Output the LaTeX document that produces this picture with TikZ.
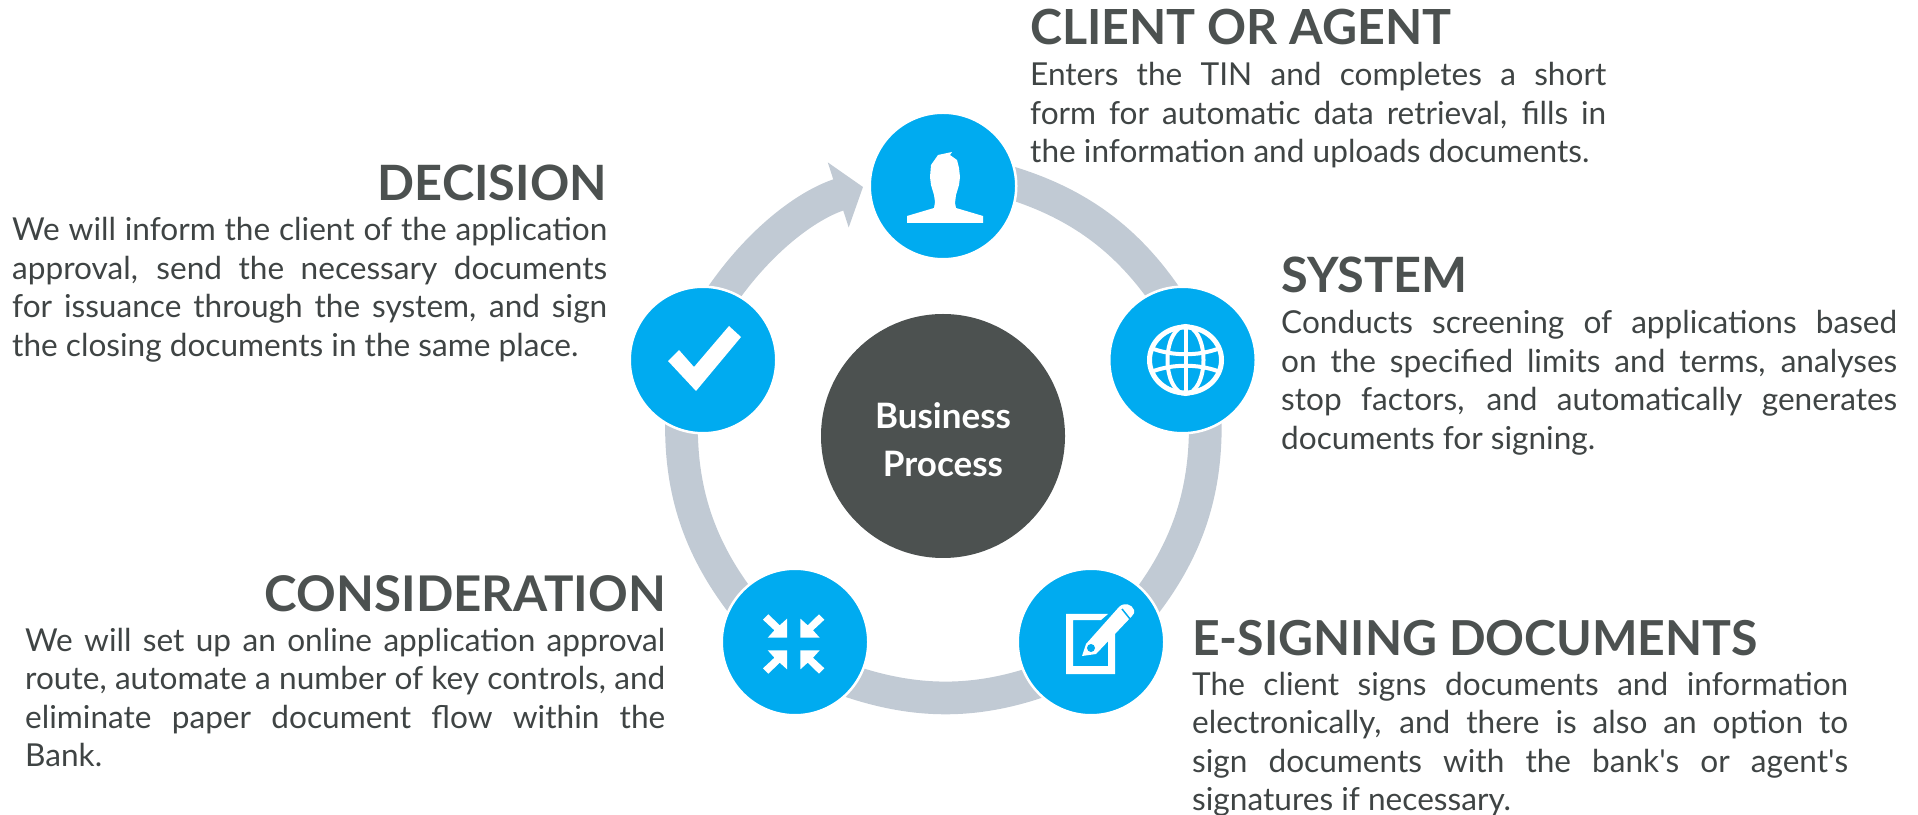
\documentclass[tikz,border=0pt]{standalone}
\usepackage{fontspec}
\setmainfont{Lato}
\usetikzlibrary{arrows.meta,backgrounds}
\definecolor{stepblue}{HTML}{00ABF0}
\definecolor{hubgrey}{HTML}{4C5150}
\definecolor{ringgrey}{HTML}{C1CAD4}
\definecolor{bodygrey}{HTML}{3F4444}
\tikzstyle{step vertex}=[circle,fill=stepblue,draw=white,line width=2.5pt,minimum size=146.5pt,inner sep=0pt]
\tikzstyle{hub vertex}=[circle,fill=hubgrey,minimum size=244pt,inner sep=0pt,text=white,align=center,font=\fontsize{35}{47.7}\selectfont\bfseries]
\tikzstyle{ring edge}=[draw=ringgrey,line width=32.7pt,looseness=.878,shorten <=-14pt,shorten >=-14pt]
\tikzstyle{title}=[inner sep=0pt,text=hubgrey,font=\fontsize{48.7}{52}\selectfont\bfseries]
\tikzstyle{body}=[anchor=base west,inner sep=0pt,text=bodygrey,align=justify,font=\fontsize{31.6}{38.5}\selectfont,execute at begin node={\tolerance=9999 \hyphenpenalty=10000 }]
\tikzstyle{icon}=[fill=white,draw=none]
\tikzstyle{icon line}=[draw=white,line width=4pt]
\newcommand{\inarrow}{(-6.7,-6.3) -- (-26,-6.3) -- (-19.3,-13.7) -- (-30.7,-24.3) -- (-25.3,-29.7) -- (-14,-18.7) -- (-6.7,-25.3) -- cycle}
\begin{document}
\begin{tikzpicture}[x=1pt,y=1pt]
        \useasboundingbox (0,0) rectangle (1918,814);
        \node[hub vertex] (hub) at (943,378) {\rule{0pt}{33pt}Business\\Process};
        \node[step vertex] (client) at (943,628) {};
        \node[step vertex] (system) at (1182.5,454) {};
        \node[step vertex] (esign) at (1091,172) {};
        \node[step vertex] (consider) at (795,172) {};
        \node[step vertex] (decision) at (703,454) {};
        \coordinate (tip) at (863,627);
        \begin{scope}[on background layer]
        \draw[ring edge] (client.1.3) to[out=-16.2,in=123.8] (system.107.4);
        \draw[ring edge] (system.-72.2) to[out=-88.6,in=51.9] (esign.37.3);
        \draw[ring edge] (esign.-145.9) to[out=-160.5,in=-19.5] (consider.-34.1);
        \draw[ring edge] (consider.142.7) to[out=128.1,in=268.6] (decision.-107.5);
        \draw[ring edge,shorten >=0pt,-{Triangle[width=67pt,length=26pt]}] (decision.72.3) to[out=56.2,in=197.8] (tip);
        \end{scope}
        % person
        \begin{scope}[shift={(client)},yscale=-1]
        \fill[icon] (-36,37) -- (-36,30) -- (-9,22) -- (-8,16) -- (-9,9) -- (-12,-1) -- (-13,-9) -- (-12,-21) -- (-5,-31) -- (9,-34) -- (7,-31) -- (14,-26) -- (16,-18) -- (17,-9) -- (16,-1) -- (13,9) -- (12,17) -- (13,22) -- (40,30) -- (40,37) -- cycle;
        \end{scope}
        % globe
        \begin{scope}[shift={(system)},xshift=3pt,yscale=-1]
        \draw[icon line,line width=5pt] (0,0) ellipse [x radius=36,y radius=33];
        \draw[icon line] (0,0) ellipse [x radius=18,y radius=34];
        \draw[icon line] (0,-34) -- (0,34);
        \draw[icon line] (-32,-11) .. controls (-12,-4) and (12,-4) .. (32,-11);
        \draw[icon line] (-32,11) .. controls (-12,4) and (12,4) .. (32,11);
        \end{scope}
        % pen and sheet
        \begin{scope}[shift={(esign)},yscale=-1]
        \fill[icon] (-25,-28) -- (17,-28) -- (10,-22) -- (-18,-22) -- (-18,24) -- (17,24) -- (17,-3) -- (24,-10) -- (24,32) -- (-25,32) -- cycle;
        \fill[icon] (-9,14) -- (-5,2) -- (28,-35) .. controls (33,-40) and (41,-38) .. (43,-32) .. controls (44,-30) and (43,-28) .. (41,-26) -- (5,12) -- cycle;
        \draw[draw=stepblue,line width=1.5pt] (31,-33) -- (39,-23);
        \fill[fill=stepblue] (0,6) circle (4);
        \end{scope}
        % arrows pointing inward
        \begin{scope}[shift={(consider)},xshift=-1.3pt,yshift=-2pt,yscale=-1]
        \fill[icon] \inarrow;
        \fill[icon,xscale=-1] \inarrow;
        \fill[icon,yscale=-1] \inarrow;
        \fill[icon,scale=-1] \inarrow;
        \end{scope}
        % tick
        \begin{scope}[shift={(decision)},yscale=-1]
        \fill[icon] (-35,1) -- (-24,-10) -- (-9,7) -- (26,-34) -- (38,-23) -- (-7,31) -- cycle;
        \end{scope}
        % texts
        \node[title,anchor=base west,font=\fontsize{48.4}{52}\selectfont\bfseries] (client title) at (1030,769) {CLIENT OR AGENT};
        \node[body,text width=576pt] (client text) at (1030,728) {Enters the TIN and completes a short\linebreak form for automatic data retrieval, fills in\linebreak the information and uploads documents.};
        \node[title,anchor=base east] (decision title) at (607,613) {DECISION};
        \node[body,text width=595pt] (decision text) at (12,573) {We will inform the client of the application\linebreak approval, send the necessary documents\linebreak for issuance through the system, and sign\linebreak the closing documents in the same place.};
        \node[title,anchor=base west] (system title) at (1281,521) {SYSTEM};
        \node[body,text width=616pt] (system text) at (1281,480) {Conducts screening of applications based\linebreak on the specified limits and terms, analyses\linebreak stop factors, and automatically generates\linebreak documents for signing.};
        \node[title,anchor=base west,font=\fontsize{48.2}{52}\selectfont\bfseries] (esign title) at (1192,159) {E-SIGNING DOCUMENTS};
        \node[body,text width=656pt] (esign text) at (1192,119) {The client signs documents and information\linebreak electronically, and there is also an option to\linebreak sign documents with the bank\textquotesingle s or agent\textquotesingle s\linebreak signatures if necessary.};
        \node[title,anchor=base east,font=\fontsize{49.2}{52}\selectfont\bfseries] (consider title) at (666,203) {CONSIDERATION};
        \node[body,text width=640pt] (consider text) at (25,163) {We will set up an online application approval\linebreak route, automate a number of key controls, and\linebreak eliminate paper document flow within the\linebreak Bank.};
      \end{tikzpicture}
\end{document}
